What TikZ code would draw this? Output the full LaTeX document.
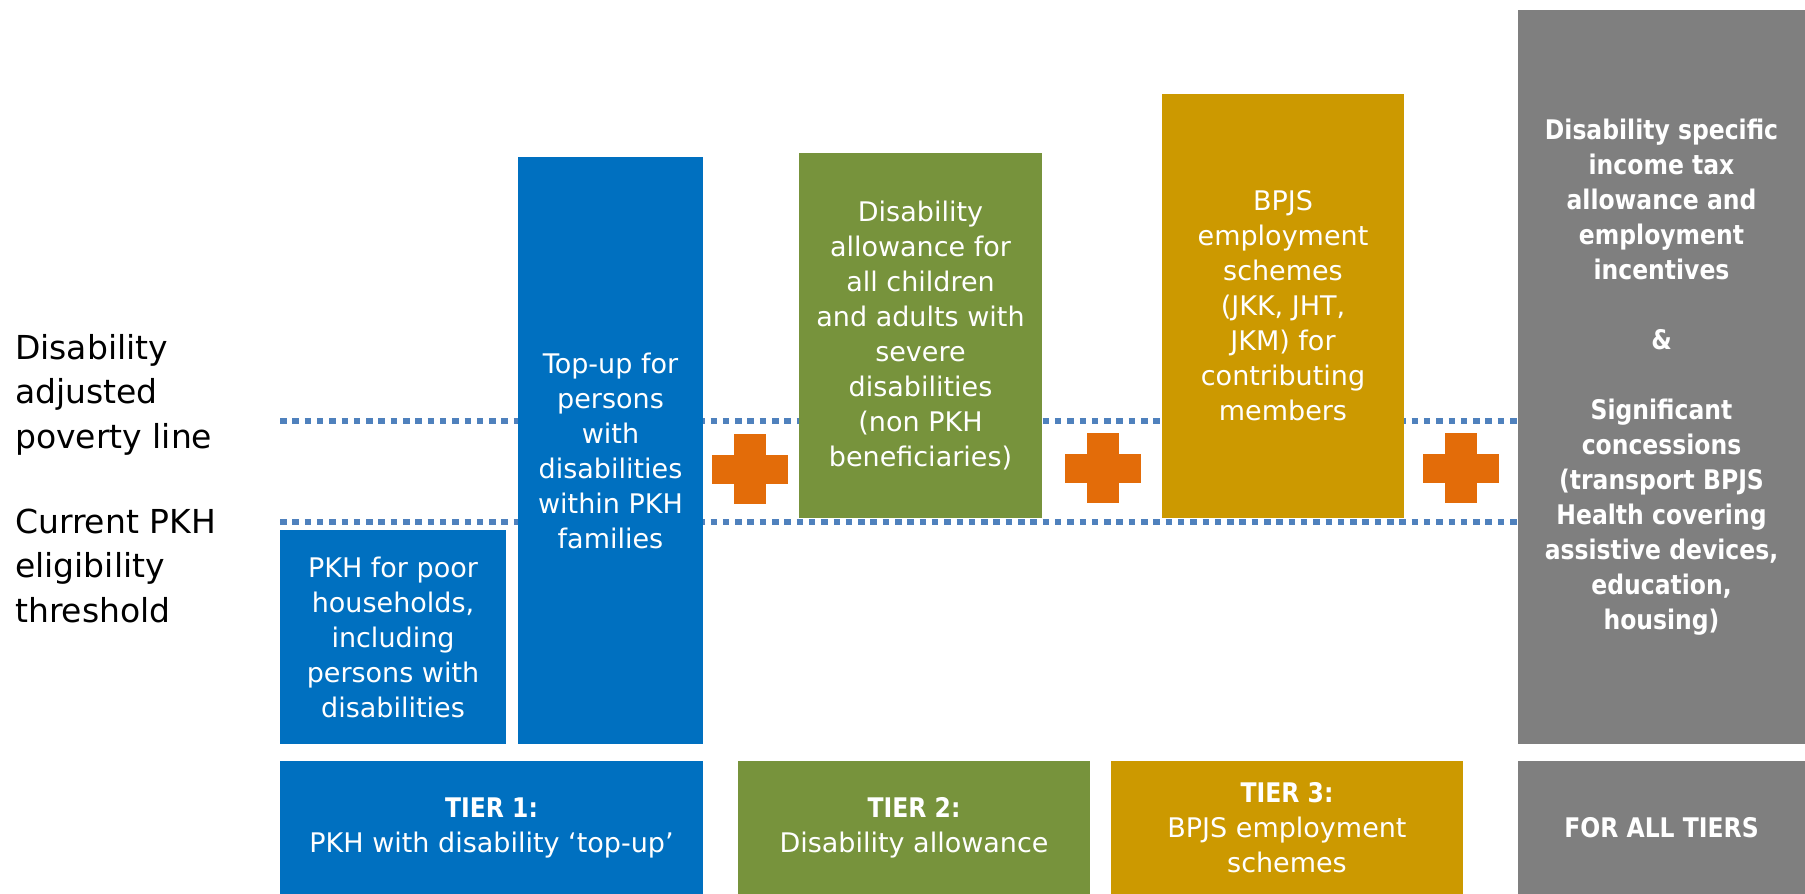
\documentclass[tikz,border=0pt]{standalone}
\usepackage{fontspec}
\setmainfont{DejaVu Sans}[BoldFeatures={FakeStretch=0.87}]
\usetikzlibrary{calc}

\definecolor{tierblue}{HTML}{0070C0}
\definecolor{tiergreen}{HTML}{77933C}
\definecolor{tiergold}{HTML}{CC9900}
\definecolor{tiergray}{HTML}{7F7F7F}
\definecolor{plusorange}{HTML}{E36C09}
\definecolor{dotblue}{HTML}{4F81BD}

\begin{document}
\begin{tikzpicture}[x=1pt,y=-1pt,
  block/.style={anchor=north west, inner sep=0pt, outer sep=0pt, text=white,
    align=center, font=\fontsize{27}{35}\selectfont},
  boldblock/.style={block, font=\fontsize{27}{35}\selectfont\bfseries},
  sidelabel/.style={anchor=base west, inner sep=0pt, align=left, text=black,
    font=\fontsize{33}{44.5}\selectfont},
  dotline/.style={draw=dotblue, line width=6pt, dash pattern=on 6.5pt off 5.8pt},
  plusmark/.style={fill=plusorange}]

\useasboundingbox (0,0) rectangle (1805,894);

% threshold lines, drawn first so the bars cover them
\coordinate (povL) at (280,421);
\coordinate (povR) at (1518,421);
\coordinate (pkhL) at (280,522);
\coordinate (pkhR) at (1518,522);
\draw[dotline] (povL) -- (povR);
\draw[dotline] (pkhL) -- (pkhR);

% side labels (placed by the baseline of their last line)
\node[sidelabel] (povlabel) at (15,448) {Disability\\adjusted\\poverty line};
\node[sidelabel] (pkhlabel) at (15,622) {Current PKH\\eligibility\\threshold};

% benefit bars
\node[block, fill=tierblue, minimum width=226pt, minimum height=214pt] (pkh) at (280,530)
  {PKH for poor\\households,\\including\\persons with\\disabilities};
\node[block, fill=tierblue, minimum width=185pt, minimum height=587pt] (topup) at (518,157)
  {Top-up for\\persons\\with\\disabilities\\within PKH\\families};
\node[block, fill=tiergreen, minimum width=243pt, minimum height=365pt] (allow) at (799,153)
  {Disability\\allowance for\\all children\\and adults with\\severe\\disabilities\\(non PKH\\beneficiaries)};
\node[block, fill=tiergold, minimum width=242pt, minimum height=424pt] (bpjs) at (1162,94)
  {BPJS\\employment\\schemes\\(JKK, JHT,\\JKM) for\\contributing\\members};
\node[boldblock, fill=tiergray, minimum width=287pt, minimum height=734pt] (extras) at (1518,10)
  {Disability specific\\income tax\\allowance and\\employment\\incentives\\[35pt]\&\\[35pt]Significant\\concessions\\(transport BPJS\\Health covering\\assistive devices,\\education,\\housing)};

% plus signs between the tiers
\coordinate (plusA) at (750,469);
\coordinate (plusB) at (1103,468);
\coordinate (plusC) at (1461,468);
\foreach \c in {plusA,plusB,plusC}{
  \fill[plusmark] ($(\c)+(-38,-14.5)$) rectangle ($(\c)+(38,14.5)$);
  \fill[plusmark] ($(\c)+(-16,-35)$) rectangle ($(\c)+(16,35)$);
}

% tier captions
\node[block, fill=tierblue, minimum width=423pt, minimum height=133pt] (tier1) at (280,761)
  {\textbf{TIER 1:}\\PKH with disability ‘top-up’};
\node[block, fill=tiergreen, minimum width=352pt, minimum height=133pt] (tier2) at (738,761)
  {\textbf{TIER 2:}\\Disability allowance};
\node[block, fill=tiergold, minimum width=352pt, minimum height=133pt] (tier3) at (1111,761)
  {\textbf{TIER 3:}\\BPJS employment\\schemes};
\node[boldblock, fill=tiergray, minimum width=287pt, minimum height=133pt] (tierall) at (1518,761)
  {FOR ALL TIERS};

\end{tikzpicture}
\end{document}
